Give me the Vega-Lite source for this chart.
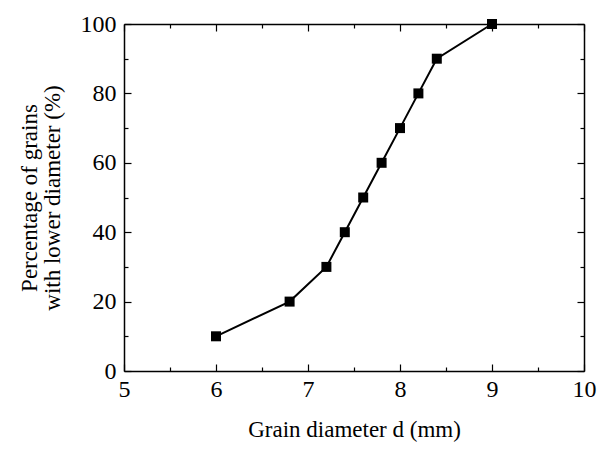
{
  "$schema": "https://vega.github.io/schema/vega-lite/v6.json",
  "width": 460,
  "height": 347,
  "autosize": "none",
  "padding": {"left": 124, "top": 24, "right": 16, "bottom": 82},
  "background": "white",
  "config": {
    "view": {"stroke": null},
    "font": "Liberation Serif",
    "axis": {
      "domainColor": "black",
      "domainWidth": 1.5,
      "tickColor": "black",
      "tickWidth": 1.2,
      "labelColor": "black",
      "titleColor": "black",
      "labelFont": "Liberation Serif",
      "titleFont": "Liberation Serif",
      "labelFontSize": 24,
      "titleFontSize": 23,
      "titleFontWeight": "normal",
      "grid": false
    }
  },
  "data": {
    "values": [
      {"d": 6.0, "p": 10},
      {"d": 6.8, "p": 20},
      {"d": 7.2, "p": 30},
      {"d": 7.4, "p": 40},
      {"d": 7.6, "p": 50},
      {"d": 7.8, "p": 60},
      {"d": 8.0, "p": 70},
      {"d": 8.2, "p": 80},
      {"d": 8.4, "p": 90},
      {"d": 9.0, "p": 100}
    ]
  },
  "encoding": {
    "x": {"field": "d", "type": "quantitative", "scale": {"domain": [5, 10], "nice": false, "zero": false}},
    "y": {"field": "p", "type": "quantitative", "scale": {"domain": [0, 100], "nice": false}}
  },
  "layer": [
    {
      "mark": {"type": "line", "color": "black", "strokeWidth": 2},
      "encoding": {
        "x": {
          "field": "d", "type": "quantitative",
          "axis": {
            "orient": "bottom",
            "title": "Grain diameter d (mm)",
            "titleFontSize": 23,
            "titlePadding": 14,
            "values": [5, 5.5, 6, 6.5, 7, 7.5, 8, 8.5, 9, 9.5, 10],
            "labelExpr": "datum.value % 1 === 0 ? format(datum.value, 'd') : ''",
            "tickSize": {"condition": {"test": "datum.value % 1 === 0", "value": -7}, "value": -4},
            "labelPadding": 13,
            "labelFlush": false,
            "labelOverlap": false
          }
        },
        "y": {
          "field": "p", "type": "quantitative",
          "axis": {
            "orient": "left",
            "title": ["Percentage of grains", "with lower diameter (%)"],
            "titleFontSize": 23,
            "titlePadding": 16,
            "titleLineHeight": 23,
            "values": [0, 10, 20, 30, 40, 50, 60, 70, 80, 90, 100],
            "labelExpr": "datum.value % 20 === 0 ? format(datum.value, 'd') : ''",
            "tickSize": {"condition": {"test": "datum.value % 20 === 0", "value": -7}, "value": -4},
            "labelPadding": 15,
            "labelFlush": false,
            "labelOverlap": false
          }
        }
      }
    },
    {
      "mark": {"type": "square", "color": "black", "size": 100, "opacity": 1, "filled": true},
      "encoding": {
        "x": {
          "field": "d", "type": "quantitative",
          "axis": {
            "orient": "top",
            "title": null,
            "labels": false,
            "values": [5, 5.5, 6, 6.5, 7, 7.5, 8, 8.5, 9, 9.5, 10],
            "tickSize": {"condition": {"test": "datum.value % 1 === 0", "value": -7}, "value": -4}
          }
        },
        "y": {
          "field": "p", "type": "quantitative",
          "axis": {
            "orient": "right",
            "title": null,
            "labels": false,
            "values": [0, 10, 20, 30, 40, 50, 60, 70, 80, 90, 100],
            "tickSize": {"condition": {"test": "datum.value % 20 === 0", "value": -7}, "value": -4}
          }
        }
      }
    }
  ],
  "resolve": {"axis": {"x": "independent", "y": "independent"}}
}
